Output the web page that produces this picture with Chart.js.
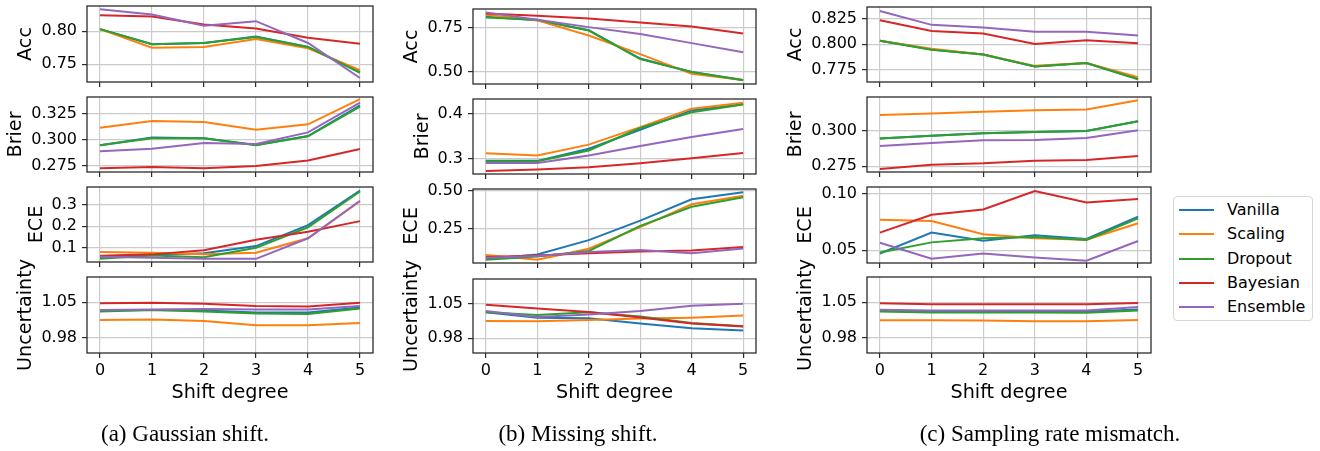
<!DOCTYPE html>
<html>
<head>
<meta charset="utf-8">
<script src="https://cdn.jsdelivr.net/npm/chart.js@4.4.1/dist/chart.umd.min.js"></script>
<style>
  body { margin: 0; background: #fff; }
  #figure { position: relative; width: 1320px; height: 451px; overflow: hidden; font-family: "DejaVu Sans", sans-serif; }
  #figure canvas { position: absolute; }
  .caption { position: absolute; top: 421px; font-family: "Liberation Serif", serif; font-size: 23px; transform: translateX(-50%); white-space: nowrap; color: #000; }
  #legend { position: absolute; left: 1173px; top: 196px; width: 140px; height: 125px; border: 1px solid #d6d6d6; border-radius: 4px; box-sizing: border-box; }
  .entry { position: absolute; left: 0; height: 20px; line-height: 20px; font-size: 16px; color: #000; white-space: nowrap; }
  .entry span.swatch { position: absolute; left: 5px; top: 9px; width: 35px; height: 2px; }
  .entry span.name { position: absolute; left: 53px; top: 0; }
</style>
</head>
<body>
<div id="figure"></div>
<script>
  // x values shared by every panel
  const DEGREES = [0, 1, 2, 3, 4, 5];
  const METHODS = ['Vanilla', 'Scaling', 'Dropout', 'Bayesian', 'Ensemble'];
  const COLORS = ['#1f77b4', '#ff7f0e', '#2ca02c', '#d62728', '#9467bd'];
  const METRICS = ['Acc', 'Brier', 'ECE', 'Uncertainty'];
  const CAPTIONS = ['(a) Gaussian shift.', '(b) Missing shift.', '(c) Sampling rate mismatch.'];

  // (a) Gaussian shift -- one row per method, in METHODS order
  const GAUSS_ACC = [
    [0.803, 0.780, 0.782, 0.792, 0.776, 0.738],
    [0.803, 0.775, 0.776, 0.788, 0.774, 0.741],
    [0.803, 0.780, 0.782, 0.791, 0.776, 0.737],
    [0.824, 0.822, 0.810, 0.804, 0.790, 0.781],
    [0.833, 0.825, 0.808, 0.815, 0.782, 0.729]
  ];
  const GAUSS_BRIER = [
    [0.2946, 0.3020, 0.3013, 0.2950, 0.3035, 0.3330],
    [0.3115, 0.3180, 0.3170, 0.3096, 0.3148, 0.3390],
    [0.2946, 0.3013, 0.3013, 0.2946, 0.3033, 0.3317],
    [0.2725, 0.2737, 0.2725, 0.2747, 0.2800, 0.2910],
    [0.2890, 0.2913, 0.2968, 0.2960, 0.3070, 0.3356]
  ];
  const GAUSS_ECE = [
    [0.053, 0.064, 0.072, 0.106, 0.205, 0.368],
    [0.078, 0.075, 0.067, 0.075, 0.143, 0.318],
    [0.046, 0.062, 0.053, 0.098, 0.195, 0.364],
    [0.060, 0.067, 0.087, 0.136, 0.174, 0.224],
    [0.056, 0.051, 0.046, 0.046, 0.143, 0.320]
  ];
  const GAUSS_UNC = [
    [1.034, 1.035, 1.034, 1.030, 1.030, 1.040],
    [1.015, 1.016, 1.013, 1.005, 1.005, 1.009],
    [1.032, 1.035, 1.032, 1.028, 1.027, 1.038],
    [1.048, 1.049, 1.047, 1.043, 1.042, 1.049],
    [1.035, 1.036, 1.037, 1.036, 1.036, 1.043]
  ];

  // (b) Missing shift
  const MISSING_ACC = [
    [0.810, 0.790, 0.735, 0.575, 0.500, 0.454],
    [0.822, 0.790, 0.705, 0.600, 0.489, 0.455],
    [0.806, 0.793, 0.733, 0.572, 0.500, 0.453],
    [0.829, 0.816, 0.801, 0.778, 0.756, 0.716],
    [0.835, 0.793, 0.752, 0.713, 0.662, 0.611]
  ];
  const MISSING_BRIER = [
    [0.295, 0.295, 0.322, 0.364, 0.407, 0.421],
    [0.312, 0.307, 0.331, 0.370, 0.411, 0.424],
    [0.294, 0.294, 0.318, 0.368, 0.403, 0.420],
    [0.2725, 0.276, 0.2807, 0.2896, 0.3007, 0.3125],
    [0.290, 0.290, 0.307, 0.328, 0.348, 0.366]
  ];
  const MISSING_ECE = [
    [0.052, 0.082, 0.176, 0.304, 0.444, 0.489],
    [0.079, 0.048, 0.120, 0.261, 0.411, 0.467],
    [0.048, 0.069, 0.105, 0.270, 0.395, 0.457],
    [0.066, 0.076, 0.091, 0.102, 0.109, 0.131],
    [0.060, 0.073, 0.098, 0.111, 0.091, 0.122]
  ];
  const MISSING_UNC = [
    [1.0325, 1.0217, 1.0203, 1.010, 1.000, 0.9955],
    [1.015, 1.0145, 1.017, 1.0197, 1.0217, 1.0258],
    [1.0325, 1.027, 1.0325, 1.024, 1.011, 1.004],
    [1.048, 1.040, 1.033, 1.022, 1.010, 1.0035],
    [1.035, 1.023, 1.028, 1.035, 1.046, 1.050]
  ];

  // (c) Sampling rate mismatch
  const SAMPLING_ACC = [
    [0.8036, 0.7948, 0.7899, 0.7779, 0.7814, 0.7656],
    [0.8036, 0.7955, 0.7899, 0.7786, 0.7814, 0.7674],
    [0.8036, 0.7945, 0.7899, 0.7779, 0.7814, 0.7654],
    [0.8239, 0.8131, 0.8108, 0.8004, 0.8039, 0.8010],
    [0.8330, 0.8193, 0.8167, 0.8124, 0.8124, 0.8088]
  ];
  const SAMPLING_BRIER = [
    [0.2946, 0.2966, 0.2983, 0.2992, 0.2999, 0.3068],
    [0.3113, 0.3123, 0.3135, 0.3146, 0.3151, 0.3217],
    [0.2946, 0.2967, 0.2984, 0.2993, 0.3000, 0.3069],
    [0.2731, 0.2761, 0.2771, 0.2790, 0.2795, 0.2823],
    [0.2894, 0.2915, 0.2934, 0.2936, 0.2950, 0.3005]
  ];
  const SAMPLING_ECE = [
    [0.0470, 0.0656, 0.0584, 0.0632, 0.0600, 0.0798],
    [0.0771, 0.0759, 0.0641, 0.0605, 0.0593, 0.0740],
    [0.0478, 0.0569, 0.0605, 0.0617, 0.0590, 0.0783],
    [0.0656, 0.0816, 0.0862, 0.1027, 0.0925, 0.0957],
    [0.0566, 0.0424, 0.0470, 0.0433, 0.0406, 0.0581]
  ];
  const SAMPLING_UNC = [
    [1.033, 1.032, 1.032, 1.032, 1.032, 1.036],
    [1.0146, 1.0146, 1.0143, 1.0126, 1.0126, 1.015],
    [1.032, 1.030, 1.030, 1.030, 1.0295, 1.034],
    [1.048, 1.046, 1.046, 1.046, 1.046, 1.0486],
    [1.0352, 1.034, 1.034, 1.034, 1.034, 1.0406]
  ];

  // y tick labels per panel (row order: Acc, Brier, ECE, Uncertainty)
  const GAUSS_TICKS = [['0.75', '0.80'], ['0.275', '0.300', '0.325'], ['0.1', '0.2', '0.3'], ['0.98', '1.05']];
  const MISSING_TICKS = [['0.50', '0.75'], ['0.3', '0.4'], ['0.25', '0.50'], ['0.98', '1.05']];
  const SAMPLING_TICKS = [['0.775', '0.800', '0.825'], ['0.275', '0.300'], ['0.05', '0.10'], ['0.98', '1.05']];

  // y axis limits per panel
  const GAUSS_RANGE = [[0.723, 0.838], [0.269, 0.341], [0.031, 0.385], [0.95, 1.10]];
  const MISSING_RANGE = [[0.432, 0.854], [0.2658, 0.4324], [0.0264, 0.511], [0.95, 1.10]];
  const SAMPLING_RANGE = [[0.7626, 0.837], [0.271, 0.324], [0.0385, 0.1063], [0.95, 1.10]];

  const COLUMNS = [
    { series: [GAUSS_ACC, GAUSS_BRIER, GAUSS_ECE, GAUSS_UNC], ticks: GAUSS_TICKS, ranges: GAUSS_RANGE },
    { series: [MISSING_ACC, MISSING_BRIER, MISSING_ECE, MISSING_UNC], ticks: MISSING_TICKS, ranges: MISSING_RANGE },
    { series: [SAMPLING_ACC, SAMPLING_BRIER, SAMPLING_ECE, SAMPLING_UNC], ticks: SAMPLING_TICKS, ranges: SAMPLING_RANGE }
  ];

  // layout (plot frame edges in page pixels)
  const COL_LEFT = [87, 473, 867];
  const COL_RIGHT = [373, 756, 1151];
  const ROW_TOP = [[6, 97, 187, 277], [9, 99, 189, 279], [7, 97, 187, 277]];
  const ROW_BOTTOM = [[82, 172, 262, 353], [84, 174, 263, 353], [82, 172, 263, 353]];
  const CAPTION_X = [185, 578, 1050];
  const Y_AXIS_W = 87;
  const PAD_TOP = 30;
  const PAD_RIGHT = 12;
  const TICK_LEN = 5;
  const TICK_PAD = 5;
  const TICK_FONT = 16;
  const LABEL_FONT = 19.2;
  const GRID_COLOR = '#cbcbcb';
  const SPINE_COLOR = '#2b2b2b';

  // draws frame, rotated y label and x label the way matplotlib does
  const decorPlugin = {
    id: 'decor',
    afterDraw(chart, args, opts) {
      const ctx = chart.ctx;
      const area = chart.chartArea;
      ctx.save();
      ctx.strokeStyle = SPINE_COLOR;
      ctx.lineWidth = 1.3;
      ctx.strokeRect(area.left, area.top, area.right - area.left, area.bottom - area.top);

      ctx.font = TICK_FONT + 'px "DejaVu Sans"';
      let maxW = 0;
      chart.scales.y.ticks.forEach(t => { maxW = Math.max(maxW, ctx.measureText(String(t.label)).width); });
      const baseX = area.left - TICK_LEN - TICK_PAD - maxW - 10;
      ctx.font = LABEL_FONT + 'px "DejaVu Sans"';
      ctx.fillStyle = '#000';
      ctx.textAlign = 'center';
      ctx.textBaseline = 'alphabetic';
      ctx.save();
      ctx.translate(baseX, (area.top + area.bottom) / 2);
      ctx.rotate(-Math.PI / 2);
      ctx.fillText(opts.yTitle, 0, 0);
      ctx.restore();
      if (opts.xTitle) {
        ctx.fillText(opts.xTitle, (area.left + area.right) / 2, area.bottom + 44.5);
      }
      ctx.restore();
    }
  };

  const figure = document.getElementById('figure');

  function makePanel(col, row) {
    const colInfo = COLUMNS[col];
    const tickLabels = colInfo.ticks[row];
    const range = colInfo.ranges[row];
    const L = COL_LEFT[col], R = COL_RIGHT[col];
    const T = ROW_TOP[col][row], B = ROW_BOTTOM[col][row];
    const isBottom = row === METRICS.length - 1;
    const xAxisH = isBottom ? 60 : 16;
    const w = Y_AXIS_W + (R - L) + PAD_RIGHT;
    const h = PAD_TOP + (B - T) + xAxisH;

    const canvas = document.createElement('canvas');
    canvas.width = w;
    canvas.height = h;
    canvas.style.left = (L - Y_AXIS_W) + 'px';
    canvas.style.top = (T - PAD_TOP) + 'px';
    canvas.style.width = w + 'px';
    canvas.style.height = h + 'px';
    figure.appendChild(canvas);

    const datasets = colInfo.series[row].map((vals, i) => ({
      label: METHODS[i],
      data: DEGREES.map((d, k) => ({ x: d, y: vals[k] })),
      borderColor: COLORS[i],
      backgroundColor: COLORS[i],
      borderWidth: 2,
      pointRadius: 0,
      tension: 0,
      order: METHODS.length - i
    }));

    new Chart(canvas.getContext('2d'), {
      type: 'line',
      data: { datasets: datasets },
      options: {
        responsive: false,
        animation: false,
        events: [],
        layout: { padding: { top: PAD_TOP, right: PAD_RIGHT, left: 0, bottom: 0 } },
        plugins: {
          legend: { display: false },
          tooltip: { enabled: false },
          decor: { yTitle: METRICS[row], xTitle: isBottom ? 'Shift degree' : null }
        },
        scales: {
          x: {
            type: 'linear',
            min: -0.25,
            max: 5.25,
            afterBuildTicks: s => { s.ticks = DEGREES.map(v => ({ value: v })); },
            afterFit: s => { s.height = xAxisH; s.paddingLeft = 0; s.paddingRight = 0; },
            grid: { color: GRID_COLOR, lineWidth: 1.2, tickLength: TICK_LEN, tickColor: SPINE_COLOR, tickWidth: 1.2 },
            border: { display: false },
            ticks: {
              display: isBottom,
              padding: 3,
              color: '#000',
              maxRotation: 0,
              autoSkip: false,
              font: { family: 'DejaVu Sans', size: TICK_FONT },
              callback: v => String(v)
            }
          },
          y: {
            type: 'linear',
            min: range[0],
            max: range[1],
            afterBuildTicks: s => { s.ticks = tickLabels.map(t => ({ value: parseFloat(t) })); },
            afterFit: s => { s.width = Y_AXIS_W; s.paddingTop = 0; s.paddingBottom = 0; },
            grid: { color: GRID_COLOR, lineWidth: 1.2, tickLength: TICK_LEN, tickColor: SPINE_COLOR, tickWidth: 1.2 },
            border: { display: false },
            ticks: {
              padding: TICK_PAD,
              color: '#000',
              autoSkip: false,
              font: { family: 'DejaVu Sans', size: TICK_FONT },
              callback: (v, i) => tickLabels[i]
            }
          }
        }
      },
      plugins: [decorPlugin]
    });
  }

  for (let c = 0; c < COLUMNS.length; c++) {
    for (let r = 0; r < METRICS.length; r++) {
      makePanel(c, r);
    }
  }

  // legend box on the right
  const legend = document.createElement('div');
  legend.id = 'legend';
  METHODS.forEach((name, i) => {
    const entry = document.createElement('div');
    entry.className = 'entry';
    entry.style.top = (3 + i * 24.3) + 'px';
    const sw = document.createElement('span');
    sw.className = 'swatch';
    sw.style.background = COLORS[i];
    const label = document.createElement('span');
    label.className = 'name';
    label.textContent = name;
    entry.appendChild(sw);
    entry.appendChild(label);
    legend.appendChild(entry);
  });
  figure.appendChild(legend);

  // sub-figure captions
  CAPTIONS.forEach((text, i) => {
    const cap = document.createElement('div');
    cap.className = 'caption';
    cap.style.left = CAPTION_X[i] + 'px';
    cap.textContent = text;
    figure.appendChild(cap);
  });
</script>
</body>
</html>
